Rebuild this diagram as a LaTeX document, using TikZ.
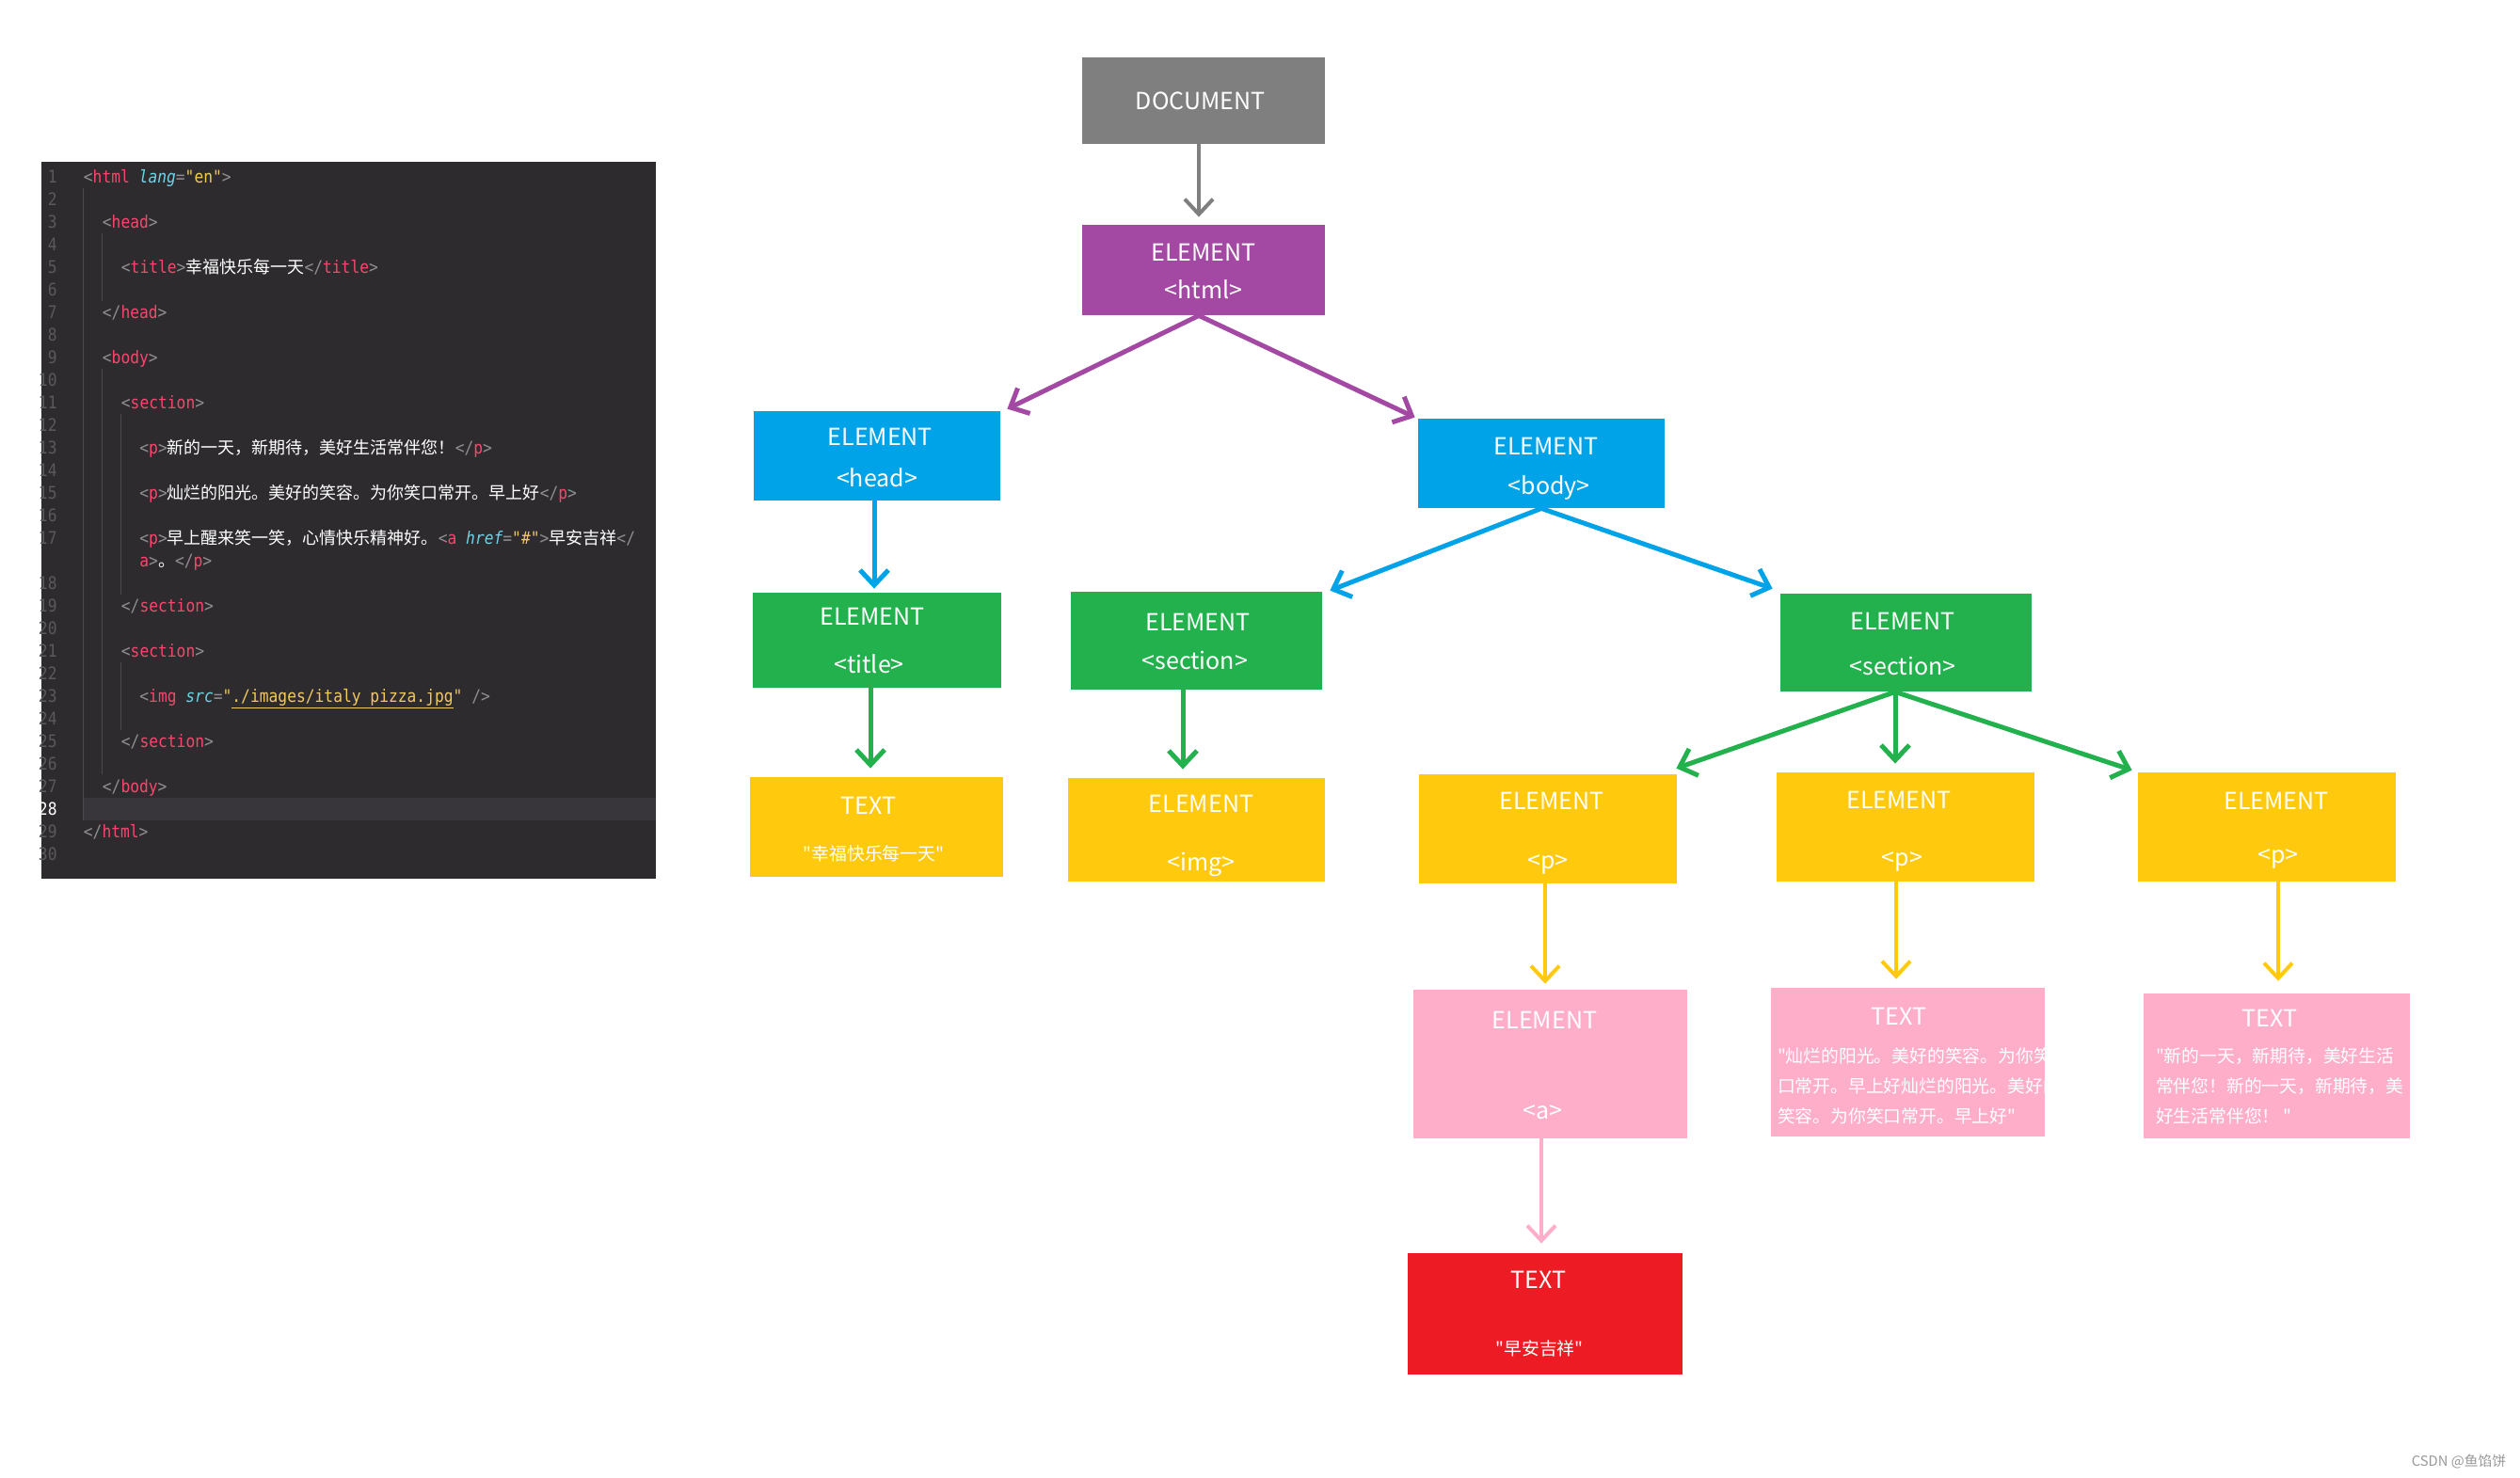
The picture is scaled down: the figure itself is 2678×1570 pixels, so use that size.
\documentclass[tikz,border=0pt]{standalone}
\usepackage{fontspec}
\newfontfamily\zhfont{Noto Sans CJK SC}
\newfontfamily\codefont[FakeStretch=0.885]{DejaVu Sans Mono}
\usepackage{tikz}
\usetikzlibrary{positioning, arrows.meta}

\definecolor{docgray}{HTML}{7F7F7F}
\definecolor{htmlpurple}{HTML}{A349A4}
\definecolor{headblue}{HTML}{00A2E8}
\definecolor{secgreen}{HTML}{22B14C}
\definecolor{pyellow}{HTML}{FFC90E}
\definecolor{textpink}{HTML}{FFAEC9}
\definecolor{leafred}{HTML}{ED1C24}
\definecolor{panelbg}{HTML}{2D2B2E}
\definecolor{panelhl}{HTML}{38363A}
\definecolor{guideline}{HTML}{4B4A4D}
\definecolor{numgray}{HTML}{5A595C}
\definecolor{tagred}{HTML}{F5486E}
\definecolor{brgray}{HTML}{8E8D90}
\definecolor{attrcyan}{HTML}{6FD3E6}
\definecolor{stryellow}{HTML}{F2C95F}

\newcommand{\zhsmall}[1]{{\fontsize{9.4}{16}\selectfont #1}}
\newcommand{\zhcode}[1]{{\zhfont\fontsize{9}{9}\selectfont\color{white}#1}}
\newcommand{\tg}[1]{{\color{tagred}#1}}
\newcommand{\br}[1]{{\color{brgray}#1}}
\newcommand{\attr}[1]{{\color{attrcyan}\itshape #1}}
\newcommand{\str}[1]{{\color{stryellow}#1}}
\newcommand{\nudge}[3]{\kern#1\relax\raisebox{#2}[\height][\depth]{#3}\kern-#1\relax}

\tikzset{
    treebox/.style={fill=#1, text=white, inner sep=0pt, align=center,
        font=\zhfont\fontsize{12.5}{15}\selectfont},
    boxlabel/.style={text=white, inner sep=0pt, font=\zhfont\fontsize{12.5}{15}\selectfont},
    boxtext/.style={text=white, inner sep=0pt, align=left, font=\zhfont\fontsize{9.4}{16}\selectfont},
    codeline/.style={anchor=base west, inner sep=0pt, font=\codefont\fontsize{9.2}{12}\selectfont},
    linenum/.style={anchor=base east, inner sep=0pt, text=numgray, font=\codefont\fontsize{9.2}{12}\selectfont},
    guide/.style={-, draw=guideline, line width=0.5pt},
    thick arrow/.style={line width=2.5pt},
    thin arrow/.style={line width=2pt}
}

\begin{document}
\begin{tikzpicture}[->,>={Straight Barb[length=8pt,width=15pt]},x=0.5pt,y=-0.5pt]
    \useasboundingbox (0,0) rectangle (2678,1570);

    % code panel
    \fill[panelbg] (44,172) rectangle (697,934);
    \fill[panelhl] (88.5,848) rectangle (697,872);
    \draw[guide] (88.5,200) -- (88.5,872);
    \draw[guide] (108.5,248) -- (108.5,320);
    \draw[guide] (108.5,392) -- (108.5,823);
    \draw[guide] (128.5,440) -- (128.5,632);
    \draw[guide] (128.5,704) -- (128.5,776);

    \foreach \n in {1,...,17}
        \node[linenum] (num\n) at (61,{194+24*(\n-1)}) {\n};
    \foreach \n in {18,...,27,29,30}
        \node[linenum] (num\n) at (61,{626+24*(\n-18)}) {\n};
    \node[linenum, text=white] (num28) at (61,866) {28};

    \node[codeline] (line1) at (88.5,194) {\br{<}\tg{html} \attr{lang}\br{=}\str{"en"}\br{>}};
    \node[codeline] (line3) at (108.5,242) {\br{<}\tg{head}\br{>}};
    \node[codeline] (line5) at (128.5,290) {\br{<}\tg{title}\br{>}\zhcode{幸福快乐每一天}\br{</}\tg{title}\br{>}};
    \node[codeline] (line7) at (108.5,338) {\br{</}\tg{head}\br{>}};
    \node[codeline] (line9) at (108.5,386) {\br{<}\tg{body}\br{>}};
    \node[codeline] (line11) at (128.5,434) {\br{<}\tg{section}\br{>}};
    \node[codeline] (line13) at (148,482) {\br{<}\tg{p}\br{>}\zhcode{新的一天，新期待，美好生活常伴您！}\br{</}\tg{p}\br{>}};
    \node[codeline] (line15) at (148,530) {\br{<}\tg{p}\br{>}\zhcode{灿烂的阳光。美好的笑容。为你笑口常开。早上好}\br{</}\tg{p}\br{>}};
    \node[codeline] (line17) at (148,578) {\br{<}\tg{p}\br{>}\zhcode{早上醒来笑一笑，心情快乐精神好。}\br{<}\tg{a} \attr{href}\br{=}\str{"\#"}\br{>}\zhcode{早安吉祥}\br{</}};
    \node[codeline] (line17b) at (148,602) {\tg{a}\br{>}\zhcode{。}\br{</}\tg{p}\br{>}};
    \node[codeline] (line19) at (128.5,650) {\br{</}\tg{section}\br{>}};
    \node[codeline] (line21) at (128.5,698) {\br{<}\tg{section}\br{>}};
    \node[codeline] (line23) at (148,746) {\br{<}\tg{img} \attr{src}\br{=}\str{"\underline{./images/italy pizza.jpg}"} \br{/>}};
    \node[codeline] (line25) at (128.5,794) {\br{</}\tg{section}\br{>}};
    \node[codeline] (line27) at (108.5,842) {\br{</}\tg{body}\br{>}};
    \node[codeline] (line29) at (88.5,890) {\br{</}\tg{html}\br{>}};

    % tree
    \node[treebox=docgray, minimum width=129pt, minimum height=46pt] (doc) at (1279,107) {\nudge{-1.7pt}{0pt}{DOCUMENT}};
    \node[treebox=htmlpurple, minimum width=129pt, minimum height=48pt, node distance=90pt, below of=doc] (html) {\nudge{0pt}{-0.85pt}{ELEMENT}\\[5pt]\nudge{0pt}{-0.85pt}{<html>}};

    \node[treebox=headblue, minimum width=131pt, minimum height=47.5pt, node distance=98.75pt, below of=html, xshift=-173.5pt] (head) {\nudge{1.7pt}{-0.85pt}{ELEMENT}\\[7pt]\nudge{0pt}{-0.85pt}{<head>}};
    \node[treebox=headblue, minimum width=131pt, minimum height=47.5pt, node distance=102.75pt, below of=html, xshift=179.5pt] (body) {\nudge{2.5pt}{-3.4pt}{ELEMENT}\\[7pt]\nudge{4.2pt}{-2.5pt}{<body>}};

    \node[treebox=secgreen, minimum width=132pt, minimum height=50.5pt, node distance=98pt, below of=head] (title) {\nudge{-2.5pt}{0pt}{ELEMENT}\\[10.5pt]\nudge{-4.2pt}{0pt}{<title>}};
    \node[treebox=secgreen, minimum width=133.5pt, minimum height=52pt, node distance=94.25pt, below of=body, xshift=-183.25pt] (sec1) {\nudge{0.85pt}{-0.85pt}{ELEMENT}\\[6pt]\nudge{-0.85pt}{0pt}{<section>}};
    \node[treebox=secgreen, minimum width=133.5pt, minimum height=52pt, node distance=95.25pt, below of=body, xshift=193.75pt] (sec2) {\nudge{-1.7pt}{-0.85pt}{ELEMENT}\\[9pt]\nudge{-1.7pt}{-0.85pt}{<section>}};

    \node[treebox=pyellow, minimum width=134.5pt, minimum height=53pt, node distance=99.25pt, below of=title, xshift=-0.25pt] (text0) {\nudge{-4.2pt}{-1.7pt}{TEXT}\\[10.5pt]\nudge{-1.5pt}{-0.85pt}{\zhsmall{"幸福快乐每一天"}}};
    \node[treebox=pyellow, minimum width=136.5pt, minimum height=55pt, node distance=100.5pt, below of=sec1] (img) {\nudge{2.5pt}{-3.4pt}{ELEMENT}\\[16pt]\nudge{2.5pt}{-3.4pt}{<img>}};
    \node[treebox=pyellow, minimum width=137pt, minimum height=58pt, node distance=99pt, below of=sec2, xshift=-190.25pt] (p1) {\nudge{2.1pt}{-2.5pt}{ELEMENT}\\[16.5pt]\nudge{0pt}{-2.5pt}{<p>}};
    \node[treebox=pyellow, minimum width=137pt, minimum height=58pt, node distance=98pt, below of=sec2, xshift=-0.25pt] (p2) {\nudge{-3.4pt}{-2.5pt}{ELEMENT}\\[15.5pt]\nudge{-1.7pt}{-2.5pt}{<p>}};
    \node[treebox=pyellow, minimum width=137pt, minimum height=58pt, node distance=98pt, below of=sec2, xshift=191.75pt] (p3) {\nudge{5pt}{-0.85pt}{ELEMENT}\\[12pt]\nudge{6pt}{-2.5pt}{<p>}};

    \node[treebox=textpink, minimum width=145.5pt, minimum height=79pt, node distance=125pt, below of=p1, xshift=1.25pt] (a) {\nudge{-3pt}{-0.85pt}{ELEMENT}\\[33pt]\nudge{-4.2pt}{-0.85pt}{<a>}};
    \node[treebox=textpink, minimum width=145.5pt, minimum height=79pt, node distance=125pt, below of=p2, xshift=1.25pt] (b) {};
    \node[treebox=textpink, minimum width=141.5pt, minimum height=77pt, node distance=127pt, below of=p3, xshift=5.25pt] (c) {};
    \node[treebox=leafred, minimum width=146pt, minimum height=64.5pt, node distance=132.75pt, below of=a, xshift=-2.75pt] (leaf) {\nudge{-3.4pt}{0pt}{TEXT}\\[20.5pt]\nudge{-3pt}{0pt}{\zhsmall{"早安吉祥"}}};

    \node[boxlabel] (btitle) at ([xshift=-4.75pt,yshift=24.5pt]b.center) {TEXT};
    \begin{scope}
        \clip (b.south west) rectangle (b.north east);
        \node[boxtext, anchor=west] (btext) at ([xshift=3.5pt,yshift=-12.5pt]b.west) {"灿烂的阳光。美好的笑容。为你笑\\口常开。早上好灿烂的阳光。美好的\\笑容。为你笑口常开。早上好"};
    \end{scope}
    \node[boxlabel] (ctitle) at ([xshift=-3.75pt,yshift=25.5pt]c.center) {TEXT};
    \node[boxtext, anchor=west] (ctext) at ([xshift=6.5pt,yshift=-10.5pt]c.west) {"新的一天，新期待，美好生活\\常伴您！新的一天，新期待，美\\好生活常伴您！ "};

    \node[text=gray!80, inner sep=0pt, font=\zhfont\fontsize{7.4}{9}\selectfont] (mark) at (2613,1554) {CSDN @鱼馅饼};

    % connectors
    \path[docgray, thin arrow]
            ([xshift=-2.5pt]doc.south) edge ([xshift=-2.5pt,yshift=4pt]html.north);
    \path[htmlpurple, thick arrow]
            ([xshift=-2.5pt]html.south) edge ([xshift=3.5pt,yshift=1pt]head.north east)
            ([xshift=-2.5pt]html.south) edge ([xshift=-1.5pt,yshift=0.5pt]body.north west);
    \path[headblue, thick arrow]
            ([xshift=-1.5pt]head.south) edge ([xshift=-1.5pt,yshift=2pt]title.north)
            (body.south) edge ([xshift=4pt,yshift=0.5pt]sec1.north east)
            (body.south) edge ([xshift=-4pt,yshift=2.5pt]sec2.north west);
    \path[secgreen, thick arrow]
            ([xshift=-3.5pt]title.south) edge ([xshift=-3.25pt,yshift=4.5pt]text0.north)
            ([xshift=-7.25pt]sec1.south) edge ([xshift=-7.25pt,yshift=4.5pt]img.north)
            ([xshift=-5.75pt]sec2.south) edge ([xshift=-0.5pt,yshift=3pt]p1.north east)
            ([xshift=-5.75pt]sec2.south) edge ([xshift=-5.5pt,yshift=4.5pt]p2.north)
            ([xshift=-5.75pt]sec2.south) edge ([xshift=-3pt,yshift=1pt]p3.north west);
    \path[pyellow, thin arrow]
            ([xshift=-1.5pt]p1.south) edge ([xshift=-2.75pt,yshift=3pt]a.north)
            ([xshift=-5pt]p2.south) edge ([xshift=-6.25pt,yshift=4.5pt]b.north)
            ([xshift=6pt]p3.south) edge ([xshift=0.75pt,yshift=6.5pt]c.north);
    \path[textpink, thin arrow]
            ([xshift=-4.75pt]a.south) edge ([xshift=-2pt,yshift=5pt]leaf.north);
\end{tikzpicture}
\end{document}
